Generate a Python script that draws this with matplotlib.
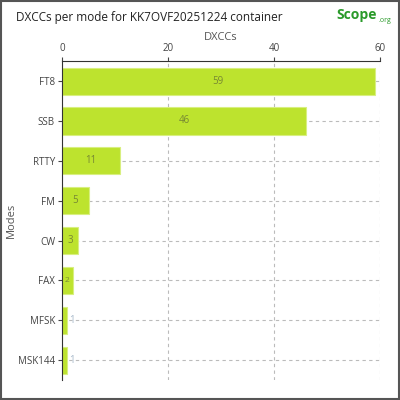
import matplotlib.pyplot as plt
from matplotlib.patches import FancyBboxPatch

modes = ['FT8', 'SSB', 'RTTY', 'FM', 'CW', 'FAX', 'MFSK', 'MSK144']
dxccs = [59, 46, 11, 5, 3, 2, 1, 1]

plt.rcParams['font.family'] = ['Open Sans', 'DejaVu Sans']

fig = plt.figure(figsize=(4, 4), dpi=100)
ax = fig.add_axes([0.155, 0.05, 0.795, 0.797])
ys = list(range(len(modes)))
ax.barh(ys, dxccs, height=0.68, color='#bde32e', edgecolor='#d8ef80', linewidth=0.8)
ax.set_ylim(len(modes) - 0.5, -0.5)
ax.set_xlim(0, 60)
ax.set_yticks(ys)
ax.set_yticklabels(modes)
ax.set_xticks([0, 20, 40, 60])
ax.xaxis.tick_top()
ax.xaxis.set_label_position('top')
ax.set_xlabel('DXCCs', color='#555555', fontsize=8, labelpad=2)
ax.set_ylabel('Modes', color='#555555', fontsize=8, labelpad=1)
ax.tick_params(colors='#444444', labelsize=7, length=3, pad=2)
ax.grid(True, linestyle=(0, (3, 3)), color='#bbbbbb', linewidth=0.8)
ax.set_axisbelow(True)
for s in ['right', 'bottom']:
    ax.spines[s].set_visible(False)
for s in ['top', 'left']:
    ax.spines[s].set_color('#333333')
for y, v in zip(ys, dxccs):
    if v >= 3:
        ax.text(v / 2, y, str(v), ha='center', va='center', fontsize=7, color='#778833')
    elif v == 2:
        ax.text(v / 2, y, str(v), ha='center', va='center', fontsize=6, color='#778833')
    else:
        ax.text(v + 0.3, y, str(v), ha='left', va='center', fontsize=7, color='#aabbcc')

fig.text(0.04, 0.955, 'DXCCs per mode for KK7OVF20251224 container', fontsize=8.5,
         color='#222222', va='center')
fig.text(0.84, 0.963, 'Scope', fontsize=10, color='#2a9a2a', fontweight='bold', va='center')
fig.text(0.945, 0.95, '.org', fontsize=5, color='#2a9a2a', va='center')
fig.patches.append(FancyBboxPatch((0.003, 0.003), 0.994, 0.994, boxstyle='square,pad=0',
                                  transform=fig.transFigure, fill=False,
                                  edgecolor='#555555', linewidth=1.5))
fig.savefig('out.png', dpi=100)
